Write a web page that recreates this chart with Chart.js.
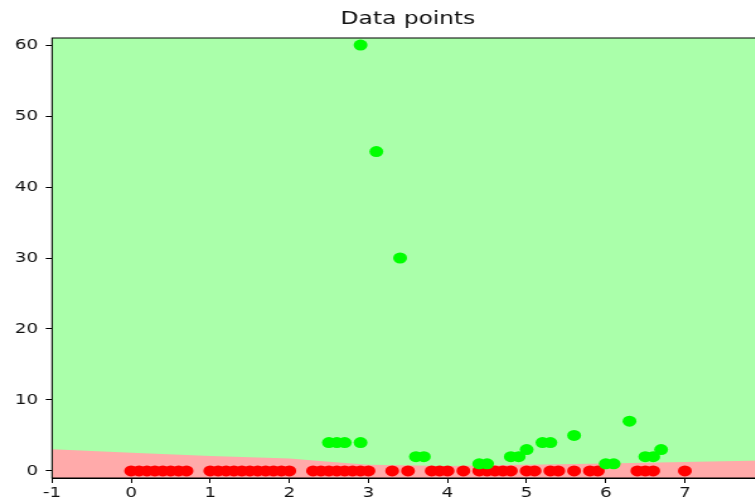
<!DOCTYPE html>
<html>
<head>
<meta charset="utf-8">
<script src="https://cdn.jsdelivr.net/npm/chart.js@4.4.0/dist/chart.umd.min.js"></script>
<style>
  html, body { margin: 0; padding: 0; overflow: hidden; background: #fff; width: 755px; height: 504px; }
  #wrap { width: 620px; height: 504px; transform: scaleX(1.26); transform-origin: 0 0; }
</style>
</head>
<body>
<div id="wrap"><canvas id="chart-points" width="620" height="504"></canvas></div>
<script>
// class 0 points (all sit on y = 0)
var redX = [0, 0.1, 0.2, 0.3, 0.4, 0.5, 0.6, 0.7,
            1.0, 1.1, 1.2, 1.3, 1.4, 1.5, 1.6, 1.7, 1.8, 1.9, 2.0,
            2.3, 2.4, 2.5, 2.6, 2.7, 2.8, 2.9, 3.0,
            3.3, 3.5, 3.8, 3.9, 4.0, 4.2, 4.4, 4.5, 4.6, 4.7, 4.8,
            5.0, 5.1, 5.3, 5.4, 5.6, 5.8, 5.9, 6.4, 6.5, 6.6, 7.0];
var redY = [0, 0, 0, 0, 0, 0, 0, 0,
            0, 0, 0, 0, 0, 0, 0, 0, 0, 0, 0,
            0, 0, 0, 0, 0, 0, 0, 0,
            0, 0, 0, 0, 0, 0, 0, 0, 0, 0, 0,
            0, 0, 0, 0, 0, 0, 0, 0, 0, 0, 0];

// class 1 points
var greenX = [2.9, 3.1, 3.4, 2.5, 2.6, 2.7, 2.9, 3.6, 3.7, 4.4, 4.5, 4.8, 4.9, 5.0,
              5.2, 5.3, 5.6, 6.0, 6.1, 6.3, 6.5, 6.6, 6.7];
var greenY = [60, 45, 30, 4, 4, 4, 4, 2, 2, 1, 1, 2, 2, 3,
              4, 4, 5, 1, 1, 7, 2, 2, 3];

// decision boundary (class 0 region lies below it)
var boundaryX = [-1, 0, 1, 2, 2.5, 3, 4, 5, 6, 7, 8];
var boundaryY = [3.05, 2.55, 2.1, 1.75, 1.3, 0.85, 0.7, 0.85, 1.05, 1.25, 1.45];

var titleText = 'Data points';

function toPoints(xs, ys) {
  var pts = [];
  for (var i = 0; i < xs.length; i++) pts.push({ x: xs[i], y: ys[i] });
  return pts;
}

// green backdrop, full frame and a title centred over the plot area
var decorations = {
  id: 'decorations',
  beforeDatasetsDraw: function(chart) {
    var a = chart.chartArea, ctx = chart.ctx;
    ctx.save();
    ctx.fillStyle = '#AAFFAA';
    ctx.fillRect(a.left, a.top, a.right - a.left, a.bottom - a.top);
    ctx.restore();
  },
  afterDraw: function(chart) {
    var a = chart.chartArea, ctx = chart.ctx;
    ctx.save();
    ctx.strokeStyle = '#000';
    ctx.lineWidth = 1;
    ctx.strokeRect(a.left, a.top, a.right - a.left, a.bottom - a.top);
    ctx.fillStyle = '#111';
    ctx.font = '18.5px "DejaVu Sans"';
    ctx.textAlign = 'center';
    ctx.textBaseline = 'middle';
    ctx.fillText(titleText, (a.left + a.right) / 2, 19);
    ctx.restore();
  }
};

var tickFont = { family: 'DejaVu Sans', size: 14.5 };

var ctx = document.getElementById('chart-points').getContext('2d');
var chart = new Chart(ctx, {
  type: 'scatter',
  data: {
    datasets: [
      {
        label: 'Boundary',
        data: toPoints(boundaryX, boundaryY),
        showLine: true,
        fill: 'start',
        backgroundColor: '#FFAAAA',
        borderWidth: 0,
        pointRadius: 0,
        order: 3
      },
      {
        label: 'Class 0',
        data: toPoints(redX, redY),
        backgroundColor: '#FF0000',
        borderWidth: 0,
        pointRadius: 5.5,
        order: 2
      },
      {
        label: 'Class 1',
        data: toPoints(greenX, greenY),
        backgroundColor: '#00FF00',
        borderWidth: 0,
        pointRadius: 5.5,
        order: 1
      }
    ]
  },
  options: {
    responsive: false,
    animation: false,
    layout: { padding: { left: 0, right: 13.7, top: 38, bottom: 0 } },
    plugins: {
      legend: { display: false },
      tooltip: { enabled: false },
      title: { display: false }
    },
    scales: {
      x: {
        type: 'linear',
        min: -1,
        max: 8,
        afterFit: function(scale) { scale.height = 26; },
        ticks: { stepSize: 1, color: '#111', font: tickFont, padding: 2, maxRotation: 0 },
        grid: { drawOnChartArea: false, drawTicks: true, tickLength: 5, tickColor: '#000' },
        border: { display: true, color: '#000', width: 1 }
      },
      y: {
        type: 'linear',
        min: -1,
        max: 61,
        afterFit: function(scale) { scale.width = 41.3; },
        afterBuildTicks: function(scale) {
          scale.ticks = [0, 10, 20, 30, 40, 50, 60].map(function(v) { return { value: v }; });
        },
        ticks: { color: '#111', font: tickFont, padding: 6 },
        grid: { drawOnChartArea: false, drawTicks: true, tickLength: 5, tickColor: '#000' },
        border: { display: true, color: '#000', width: 1 }
      }
    }
  },
  plugins: [decorations]
});
</script>
</body>
</html>
